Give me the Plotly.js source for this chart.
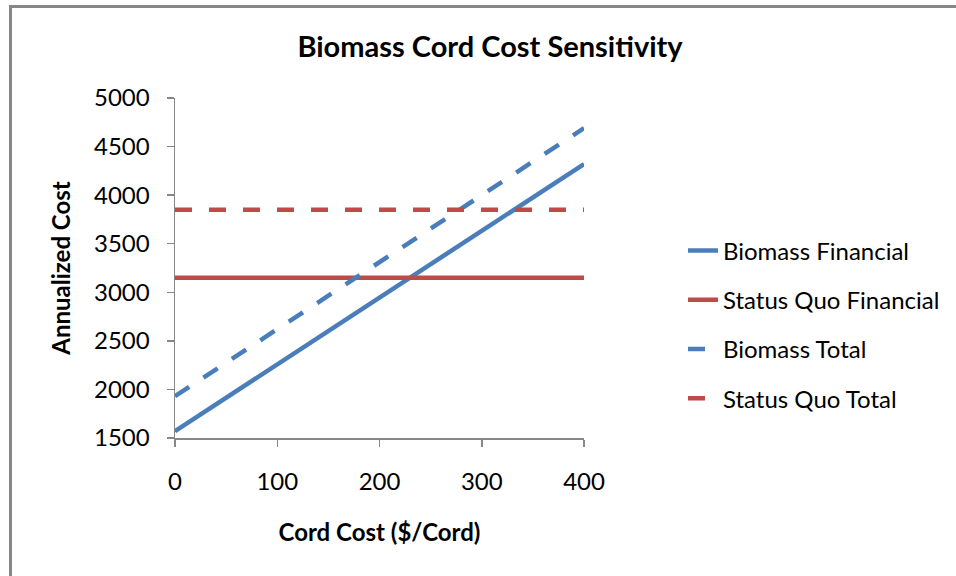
<!DOCTYPE html>
<html>
<head>
<meta charset="utf-8">
<script src="https://cdn.plot.ly/plotly-3.0.1.min.js"></script>
<style>
  html, body { margin: 0; padding: 0; background: #ffffff; }
  #wrap { position: relative; width: 956px; height: 576px; overflow: hidden; }
  #chart { position: absolute; left: 0; top: 0; width: 956px; height: 576px; }
  #frame { position: absolute; left: 9px; top: 5px; width: 960px; height: 600px;
           border-left: 3px solid #878787; border-top: 3px solid #878787; pointer-events: none; }
</style>
</head>
<body>
<div id="wrap">
  <div id="chart"></div>
  <div id="frame"></div>
</div>
<script>
// Data
const cordCost = [0, 100, 200, 300, 400];
const biomassFinancial = [1570, 2255, 2940, 3630, 4320];
const statusQuoFinancial = [3150, 3150, 3150, 3150, 3150];
const biomassTotal = [1930, 2620, 3310, 4000, 4690];
const statusQuoTotal = [3850, 3850, 3850, 3850, 3850];

const seriesNames = ["Biomass Financial", "Status Quo Financial", "Biomass Total", "Status Quo Total"];
const xTickVals = [0, 100, 200, 300, 400];
const yTickVals = [1500, 2000, 2500, 3000, 3500, 4000, 4500, 5000];

const BLUE = "#4A7EBB";
const RED = "#BE4B48";
const FONT = "Lato, 'Open Sans', sans-serif";
const DASH = "17px,17px";

const traces = [
  { x: cordCost, y: biomassFinancial, name: seriesNames[0], legendgroup: "a",
    mode: "lines", line: { color: BLUE, width: 4.5 } },
  { x: cordCost, y: statusQuoFinancial, name: seriesNames[1], legendgroup: "b",
    mode: "lines", line: { color: RED, width: 4.5 } },
  { x: cordCost, y: biomassTotal, name: seriesNames[2], legendgroup: "c",
    mode: "lines", line: { color: BLUE, width: 4.5, dash: DASH } },
  { x: cordCost, y: statusQuoTotal, name: seriesNames[3], legendgroup: "d",
    mode: "lines", line: { color: RED, width: 4.5, dash: DASH } }
];

const layout = {
  width: 956, height: 576,
  paper_bgcolor: "#ffffff", plot_bgcolor: "#ffffff",
  margin: { l: 175, r: 371, t: 98, b: 138 },
  font: { family: FONT, size: 24, color: "#000000" },
  title: {
    text: "<b>Biomass Cord Cost Sensitivity</b>",
    font: { family: FONT, size: 29, color: "#000000" },
    x: 0.5126, xref: "container", xanchor: "center",
    y: 0.918, yref: "container", yanchor: "middle"
  },
  xaxis: {
    range: [0, 400], tickvals: xTickVals, ticktext: xTickVals.map(String),
    showgrid: false, zeroline: false, showline: true, linecolor: "#878787", linewidth: 1.5,
    ticks: "outside", ticklen: 7, tickcolor: "#878787", tickwidth: 1.5,
    ticklabelstandoff: 15,
    tickfont: { family: FONT, size: 24, color: "#000000" },
    title: { text: "<b>Cord Cost ($/Cord)</b>", font: { family: FONT, size: 24, color: "#000000" }, standoff: 30 },
    fixedrange: true
  },
  yaxis: {
    range: [1500, 5000], tickvals: yTickVals, ticktext: yTickVals.map(String),
    showgrid: false, zeroline: false, showline: true, linecolor: "#878787", linewidth: 1.5,
    ticks: "outside", ticklen: 7, tickcolor: "#878787", tickwidth: 1.5,
    ticklabelstandoff: 12,
    tickfont: { family: FONT, size: 24, color: "#000000" },
    title: { text: "<b>Annualized Cost</b>", font: { family: FONT, size: 24, color: "#000000" }, standoff: 16 },
    fixedrange: true
  },
  legend: {
    x: 1.239, xanchor: "left", y: 0.334, yanchor: "middle",
    traceorder: "grouped", tracegroupgap: 15,
    font: { family: FONT, size: 24, color: "#000000" },
    bgcolor: "rgba(0,0,0,0)", borderwidth: 0
  },
  showlegend: true
};

Plotly.newPlot("chart", traces, layout, { displayModeBar: false, staticPlot: true });
</script>
</body>
</html>
